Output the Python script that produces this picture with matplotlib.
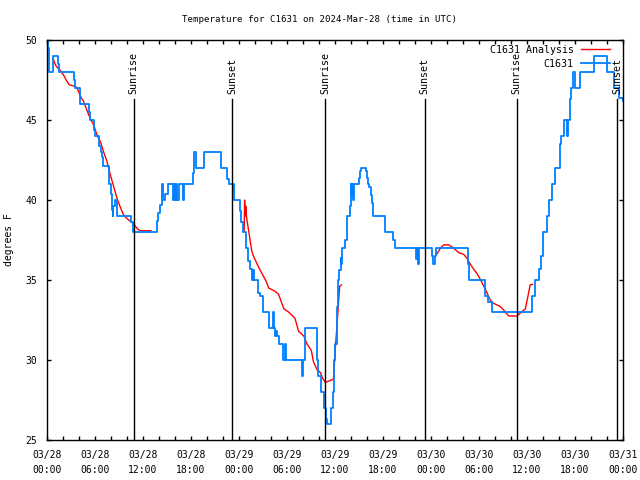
import numpy as np
import pandas as pd
import matplotlib
matplotlib.use('Agg')
import matplotlib.pyplot as plt
import matplotlib.dates as mdates

# ── Observed station temperature (hours after 2024-03-28 00:00 UTC, deg F) ──
obs_hours = [0.0, 0.1, 0.2, 0.75, 1.4, 1.55, 3.35, 3.45, 4.15, 5.2, 5.35, 5.9, 6.05,
             6.5, 6.7, 6.9, 7.05, 7.7, 7.95, 8.1, 8.2, 8.3, 8.5, 8.75, 10.5, 10.75,
             13.7, 13.9, 14.1, 14.4, 14.5, 14.8, 15.1, 15.7, 15.85, 16.0, 16.15,
             16.3, 16.5, 17.0, 17.15, 18.2, 18.4, 18.65, 19.6, 21.7, 22.55, 22.75,
             23.4, 24.1, 24.25, 24.5, 24.85, 25.15, 25.4, 25.6, 25.75, 25.9, 26.4,
             26.6, 26.95, 27.05, 27.75, 28.2, 28.4, 28.55, 28.65, 28.8, 29.0, 29.5,
             29.7, 29.85, 31.9, 32.05, 32.2, 33.7, 33.9, 34.3, 34.6, 34.85, 35.0,
             35.55, 35.7, 35.85, 36.0, 36.2, 36.4, 36.55, 36.7, 36.8, 36.9, 37.3,
             37.45, 37.55, 37.85, 37.95, 38.05, 38.15, 38.25, 38.4, 39.0, 39.15,
             39.3, 39.85, 39.95, 40.1, 40.3, 40.45, 40.6, 40.75, 42.2, 43.3, 43.45,
             46.15, 46.3, 46.35, 46.5, 48.1, 48.3, 48.55, 48.65, 52.6, 52.8, 54.8,
             55.1, 55.65, 60.6, 61.0, 61.5, 61.75, 61.95, 62.5, 62.8, 63.1, 63.55,
             64.1, 64.25, 64.65, 64.95, 65.1, 65.35, 65.55, 65.75, 65.95, 66.6,
             68.4, 69.95, 70.85, 71.45, 72.0]
obs_temp = [50.5, 49.5, 48.0, 49.0, 48.5, 48.0, 47.5, 47.0, 46.0, 45.5, 45.0, 44.4, 44.0,
            43.4, 43.0, 42.7, 42.1, 41.0, 40.4, 39.4, 39.0, 39.6, 40.0, 39.0, 38.6, 38.0,
            38.7, 39.2, 39.7, 41.0, 40.0, 40.4, 41.0, 40.0, 41.0, 40.0, 41.0,
            40.0, 41.0, 40.0, 41.0, 41.7, 43.0, 42.0, 43.0, 42.0, 41.3, 41.0,
            40.0, 39.3, 38.6, 38.0, 37.0, 36.2, 35.7, 35.0, 35.6, 35.0, 34.2,
            34.0, 33.1, 33.0, 32.0, 33.0, 32.0, 31.5, 31.8, 31.5, 31.0, 30.0,
            31.0, 30.0, 29.0, 30.0, 32.0, 30.0, 29.0, 28.0, 27.0, 26.3, 26.0,
            27.0, 28.0, 30.0, 31.0, 33.3, 35.0, 35.6, 36.4, 36.0, 37.0, 37.5,
            38.5, 39.0, 39.6, 41.0, 40.3, 41.0, 40.0, 41.0, 41.4, 41.8,
            42.0, 41.8, 41.4, 41.0, 40.8, 40.3, 39.8, 39.0, 38.0, 37.5, 37.0,
            36.3, 37.0, 36.0, 37.0, 36.5, 36.0, 36.5, 37.0, 36.0, 35.0, 34.0,
            33.6, 33.0, 34.0, 35.0, 35.7, 36.5, 38.0, 39.0, 40.0, 41.0, 42.0,
            43.5, 44.0, 45.0, 44.0, 45.0, 46.3, 47.0, 48.0, 47.0, 48.0,
            49.0, 48.0, 47.0, 46.4, 46.2]

# ── Analysis temperature (None = no analysis) ──
ana_hours = [0.75, 1.0, 1.25, 1.66, 2.08, 2.5, 2.8, 3.54, 3.75, 4.17, 4.58, 5.0, 5.4,
             5.83, 6.25, 6.67, 7.08, 7.5, 7.9, 8.3, 8.75, 9.2, 9.58, 10.2, 10.6,
             11.0, 11.3, 11.66, 13.0, 13.01,
             24.65, 24.7, 24.8, 24.85, 24.95, 25.2, 25.6, 25.8, 26.45, 27.1, 27.5,
             27.7, 28.5, 28.95, 29.6, 30.2, 30.6, 31.0, 31.45, 32.1, 32.5, 33.04,
             33.3, 33.75, 34.2, 34.4, 34.8, 35.8, 35.9, 36.0, 36.2, 36.4, 36.58,
             36.8, 36.81,
             48.7, 49.2, 49.6, 50.2, 50.8, 51.5, 52.1, 52.5, 52.9, 53.3, 53.75,
             54.2, 54.6, 55.0, 55.4, 55.8, 56.7, 57.3, 57.7, 58.75, 59.2, 59.8,
             60.0, 60.2, 60.4, 60.7]
ana_temp = [48.86, 48.5, 48.3, 48.1, 47.8, 47.4, 47.2, 47.1, 47.0, 46.5, 46.15, 45.6, 45.1,
            44.7, 44.06, 43.65, 43.0, 42.4, 41.6, 40.9, 40.1, 39.5, 39.06, 38.75, 38.6,
            38.4, 38.2, 38.08, 38.08, None,
            38.1, 40.0, 39.0, 39.6, 38.9, 38.1, 36.8, 36.5, 35.8, 35.2, 34.8,
            34.5, 34.3, 34.1, 33.2, 33.0, 32.8, 32.6, 31.8, 31.5, 31.0, 30.6,
            29.9, 29.4, 29.2, 28.9, 28.6, 28.8, 29.5, 30.5, 31.8, 33.3, 34.6,
            34.7, None,
            36.6, 37.0, 37.2, 37.2, 37.0, 36.7, 36.6, 36.35, 36.0, 35.7, 35.4,
            35.0, 34.6, 34.2, 33.75, 33.55, 33.33, 33.0, 32.75, 32.75, 32.95, 33.2,
            33.7, 34.2, 34.7, 34.73]

# ── Sun events ──
sun_hours = [10.83, 23.15, 34.8, 47.2, 58.72, 71.3]
sun_labels = ['Sunrise', 'Sunset', 'Sunrise', 'Sunset', 'Sunrise', 'Sunset']

start = pd.Timestamp('2024-03-28 00:00')
def to_time(h):
    return start + pd.to_timedelta(np.asarray(h, dtype=float), unit='h')

obs_t = to_time(obs_hours)
ana_t = to_time(ana_hours)
ana_v = np.array([np.nan if v is None else v for v in ana_temp])
sun_t = to_time(sun_hours)

plt.rcParams['font.family'] = 'DejaVu Sans Mono'
plt.rcParams['font.size'] = 7

fig = plt.figure(figsize=(6.4, 4.8), dpi=100)
ax = fig.add_axes([47 / 640, 40 / 480, 576 / 640, 400 / 480])

ax.plot(ana_t, ana_v, color='#ff0000', lw=1.0, label='C1631 Analysis')
ax.plot(obs_t, obs_temp, color='#0080ff', lw=1.3, drawstyle='steps-post', label='C1631')

for t, lab in zip(sun_t, sun_labels):
    ax.plot([t, t], [25, 46.3], color='black', lw=1.0)
    ax.text(t, 46.6, lab, rotation=90, ha='center', va='bottom', fontsize=7.2)

ax.set_xlim(to_time(0), to_time(72))
ax.set_ylim(25, 50)
ax.set_yticks([25, 30, 35, 40, 45, 50])
ax.xaxis.set_major_locator(mdates.HourLocator(byhour=[0, 6, 12, 18]))
ax.xaxis.set_minor_locator(mdates.HourLocator(interval=2))
ax.xaxis.set_major_formatter(mdates.DateFormatter('%m/%d\n%H:%M'))
ax.tick_params(which='both', direction='in', top=True, right=True,
               length=3, width=1, labelsize=7)
ax.tick_params(axis='x', pad=7)
ax.tick_params(axis='y', pad=7)
for s in ax.spines.values():
    s.set_linewidth(1.0)

# title is centred on the whole figure, not the axes
fig.text(0.5, 1 - 20 / 480, 'Temperature for C1631 on 2024-Mar-28 (time in UTC)',
         ha='center', va='center', fontsize=6.6)
ax.set_ylabel('degrees F', fontsize=7)
ax.yaxis.set_label_coords(-0.058, 0.5)

ax.legend(loc='upper right', bbox_to_anchor=(0.977, 0.988), frameon=False,
          markerfirst=False, borderpad=0, borderaxespad=0, handlelength=2.9,
          handletextpad=0.7, labelspacing=0.4, fontsize=7.2)

fig.canvas.draw()
for lbl in ax.get_xticklabels():
    lbl.set_linespacing(1.6)

fig.savefig('out.png', dpi=100)
